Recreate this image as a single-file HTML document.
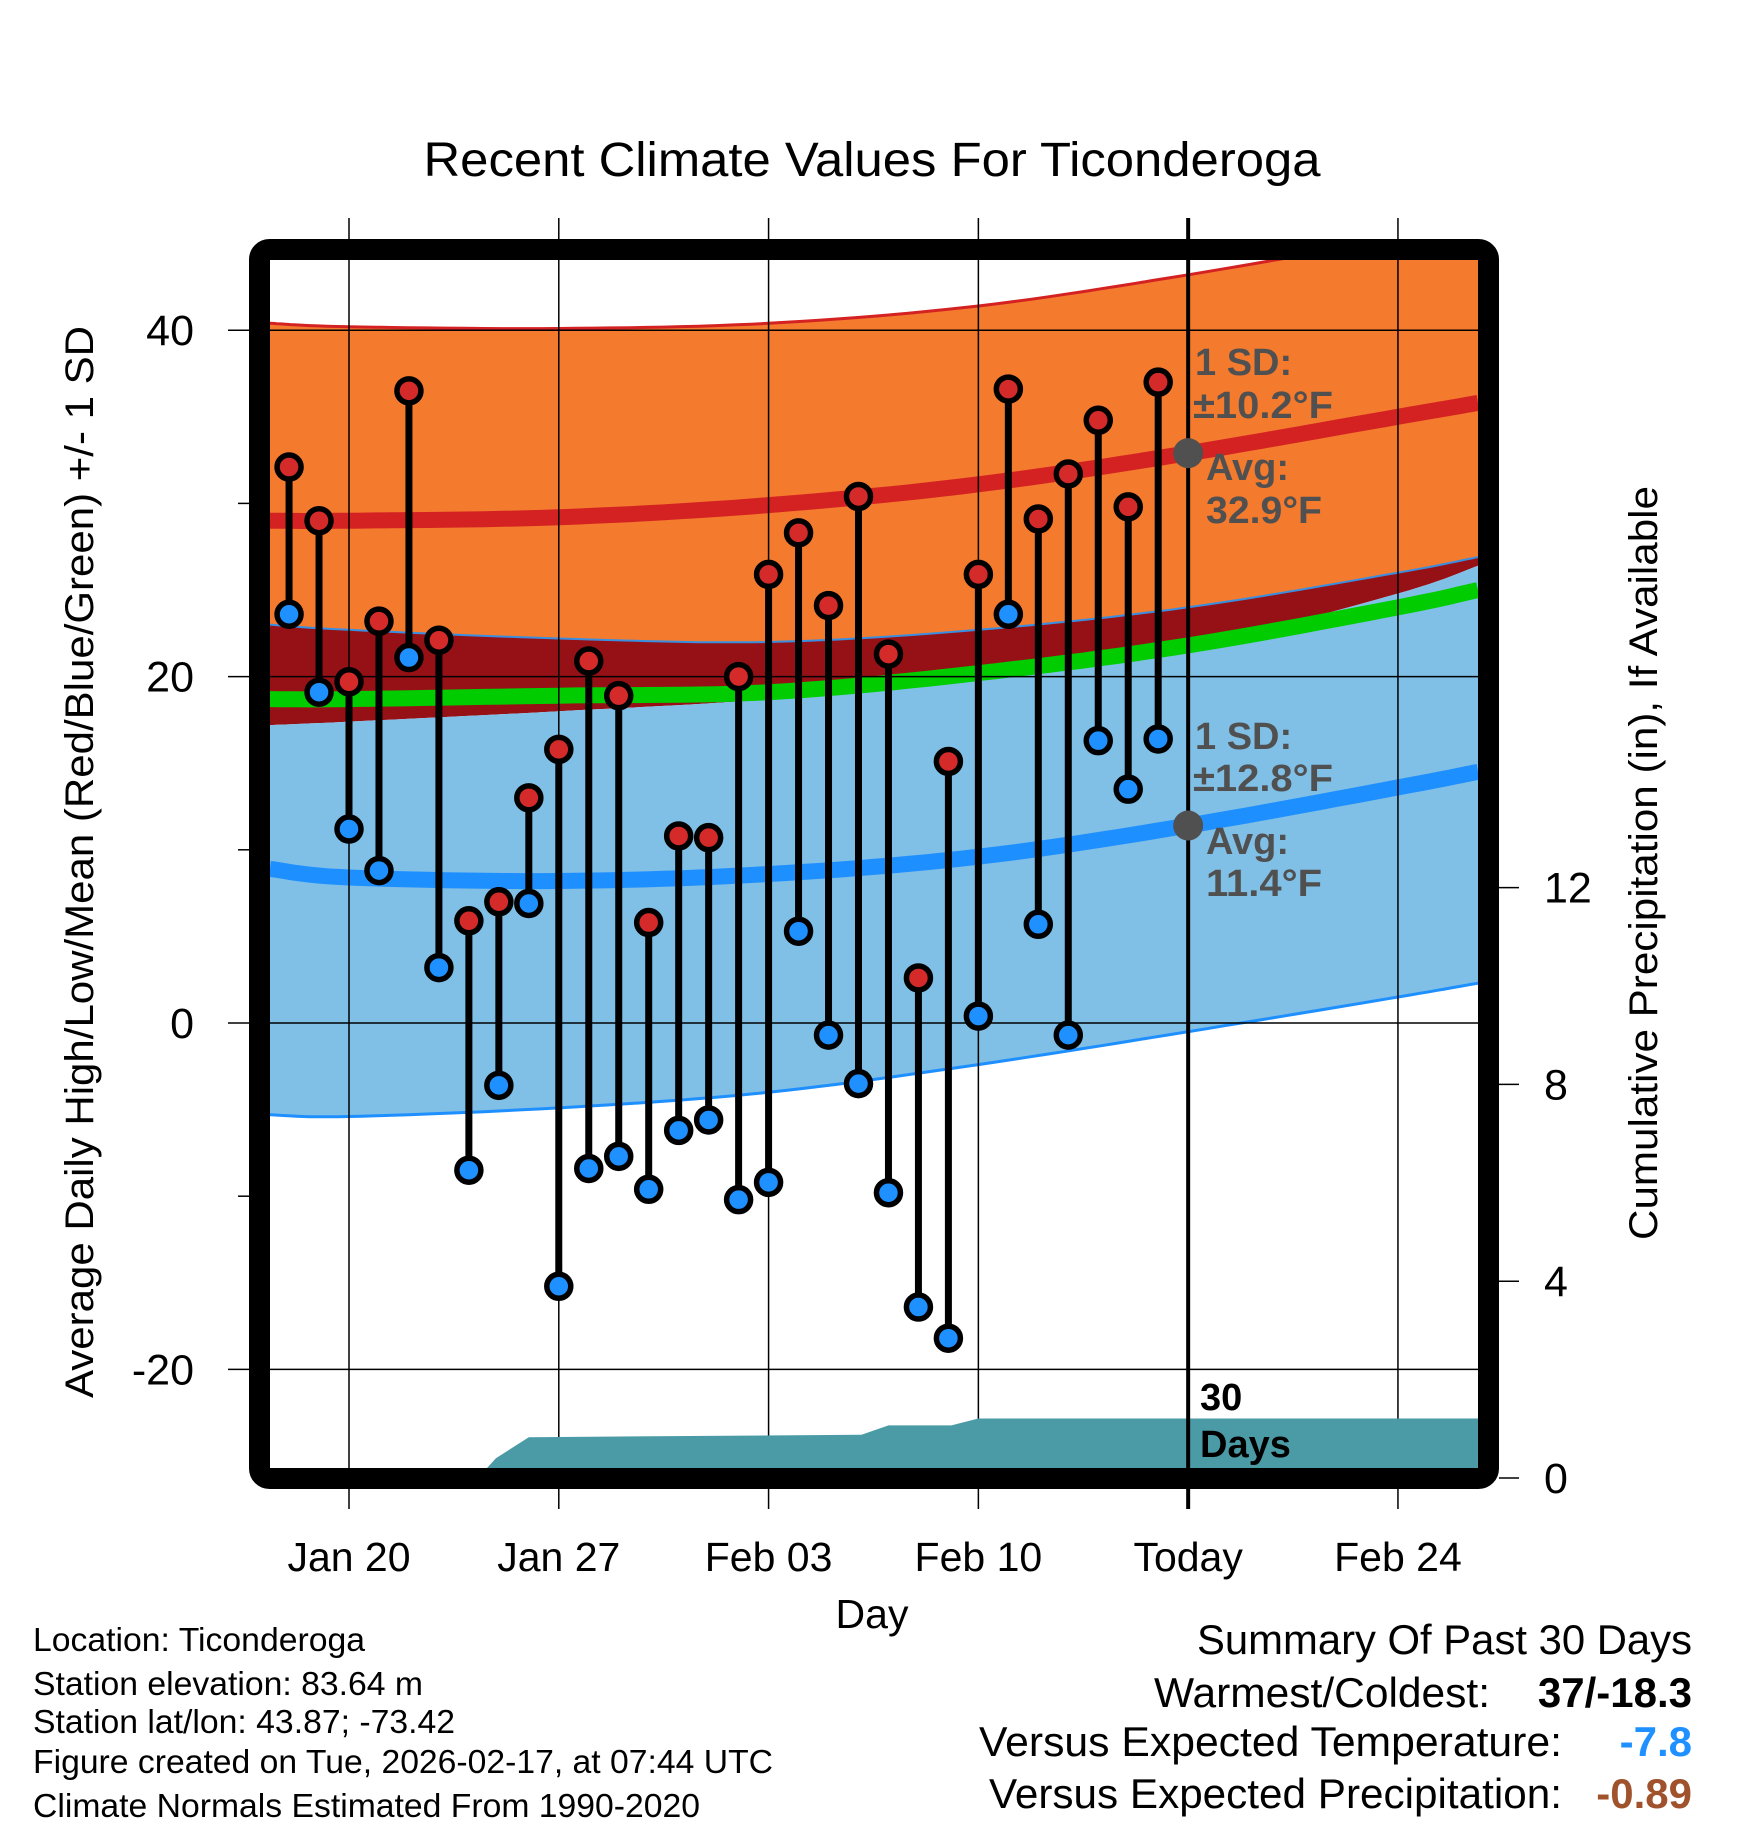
<!DOCTYPE html>
<html><head><meta charset="utf-8"><style>
html,body{margin:0;padding:0;background:#fff;}
svg{display:block;font-family:"Liberation Sans",sans-serif;}
</style></head><body>
<svg id="chart" width="1748" height="1828" viewBox="0 0 1748 1828" xmlns="http://www.w3.org/2000/svg">
<defs><clipPath id="plotclip"><rect x="270" y="260" width="1208" height="1208"/></clipPath></defs>
<text x="872" y="176" font-size="48" text-anchor="middle" textLength="897" lengthAdjust="spacingAndGlyphs">Recent Climate Values For Ticonderoga</text>
<g id="plot" clip-path="url(#plotclip)"></g>
<g id="over"></g>
</svg>
<script>
// ---- data ----
const normDays = [-2.64, 0, 7, 14, 21, 28, 35, 37.67];
const highTop = [40.4, 40.2, 40.1, 40.4, 41.4, 43.2, 45.3, 46.0];
const highMean = [29.0, 29.0, 29.2, 29.9, 31.1, 32.9, 35.0, 35.8];
const highBottom = [23.0, 22.7, 22.2, 22.0, 22.7, 24.0, 26.0, 26.9];
const lowTop = [17.2, 17.4, 18.0, 18.7, 20.0, 21.7, 24.8, 26.4];
const greenMean = [18.7, 18.7, 18.9, 19.1, 20.2, 21.8, 24.0, 25.0];
const lowMean = [8.9, 8.4, 8.2, 8.6, 9.6, 11.4, 13.6, 14.5];
const lowBottom = [-5.3, -5.4, -4.9, -4.0, -2.4, -0.5, 1.5, 2.3];
const obsDays = [-2,-1,0,1,2,3,4,5,6,7,8,9,10,11,12,13,14,15,16,17,18,19,20,21,22,23,24,25,26,27];
const highs = [32.1,29.0,19.7,23.2,36.5,22.1,5.9,7.0,13.0,15.8,20.9,18.9,5.8,10.8,10.7,20.0,25.9,28.3,24.1,30.4,21.3,2.6,15.1,25.9,36.6,29.1,31.7,34.8,29.8,37.0];
const lows = [23.6,19.1,11.2,8.8,21.1,3.2,-8.5,-3.6,6.9,-15.2,-8.4,-7.7,-9.6,-6.2,-5.6,-10.2,-9.2,5.3,-0.7,-3.5,-9.8,-16.4,-18.2,0.4,23.6,5.7,-0.7,16.3,13.5,16.4];
const precipDays = [-2.64,4.3,4.9,6,17.1,18,20.1,21,37.67];
const precip = [0,0,0.4,0.83,0.88,1.07,1.07,1.21,1.21];
const xTickDays = [0,7,14,21,28,35];
const xTickLabels = ["Jan 20","Jan 27","Feb 03","Feb 10","Today","Feb 24"];
const yTicks = [-20,0,20,40];
const yMinor = [-10,10,30];
const pTicks = [0,4,8,12];
// ---- scales ----
const xS = d => 349 + d*29.97;
const yS = t => 1023 - t*17.32;
const pS = p => 1478 - p*49.2;
const NS = "http://www.w3.org/2000/svg";
const plot = document.getElementById('plot');
const over = document.getElementById('over');
function mk(tag, attrs, parent){const e=document.createElementNS(NS,tag);for(const k in attrs)e.setAttribute(k,attrs[k]);parent.appendChild(e);return e;}
function pts(xs, ys, f){return xs.map((d,i)=>xS(d).toFixed(1)+','+f(ys[i]).toFixed(1));}
// smooth curve sampling (Catmull-Rom through the data points)
function smooth(xs, ys){
  const out=[];
  const n=xs.length;
  for(let i=0;i<n-1;i++){
    const x0=xS(xs[Math.max(i-1,0)]), y0=yS(ys[Math.max(i-1,0)]);
    const x1=xS(xs[i]), y1=yS(ys[i]), x2=xS(xs[i+1]), y2=yS(ys[i+1]);
    const x3=xS(xs[Math.min(i+2,n-1)]), y3=yS(ys[Math.min(i+2,n-1)]);
    for(let k=0;k<12;k++){
      const t=k/12,t2=t*t,t3=t2*t;
      const f=(a,b,c,d)=>0.5*((2*b)+(-a+c)*t+(2*a-5*b+4*c-d)*t2+(-a+3*b-3*c+d)*t3);
      out.push(f(x0,x1,x2,x3).toFixed(1)+','+f(y0,y1,y2,y3).toFixed(1));
    }
  }
  out.push(xS(xs[n-1]).toFixed(1)+','+yS(ys[n-1]).toFixed(1));
  return out;
}
function band(top, bot, fill, name){
  const p = smooth(normDays, top).concat(smooth(normDays, bot).reverse());
  const e = mk('polygon',{points:p.join(' '),fill:fill},plot);
  
  
}
function line(arr, color, w, name){
  const e = mk('polyline',{points:smooth(normDays, arr).join(' '),fill:'none',stroke:color,'stroke-width':w},plot);
  
  
}
band(highTop, highBottom, '#f47a2e', 'high-sd-band');
band(highBottom, lowTop, '#961116', 'overlap-band');
band(lowTop, lowBottom, '#80bfe6', 'low-sd-band');
line(highTop, '#d42222', 3, 'high-sd-top-edge');
line(lowBottom, '#1e8fff', 3, 'low-sd-bottom-edge');
line(highBottom, '#3a8ee0', 2, 'high-sd-bottom-edge');
line(highMean, '#d42222', 16, 'normal-high-line');
line(greenMean, '#00cc00', 16, 'normal-mean-line');
line(lowMean, '#1e8fff', 16, 'normal-low-line');
// gridlines
xTickDays.forEach((d,i)=>{
  if(i===4) return;
  const g = mk('line',{x1:xS(d),x2:xS(d),y1:218,y2:1509,stroke:'#000','stroke-width':1.5},over);
  
  
});
yTicks.forEach(t=>{
  const g = mk('line',{x1:228,x2:1478,y1:yS(t),y2:yS(t),stroke:'#000','stroke-width':1.5},over);
  
  
});
yMinor.forEach(t=>{
  const g = mk('line',{x1:238,x2:250,y1:yS(t),y2:yS(t),stroke:'#000','stroke-width':1.5},over);
  
  
});
// precip area
{
  const p = pts(precipDays, precip, pS);
  p.push(xS(37.67)+','+pS(0)); p.push(xS(-2.64)+','+pS(0));
  const g = document.createElementNS(NS,'g'); g.setAttribute('clip-path','url(#plotclip)'); over.appendChild(g);
  const e = mk('polygon',{points:p.join(' '),fill:'#4a9ba6'},g);
  
  
}
// today line
{
  const e = mk('line',{x1:xS(28),x2:xS(28),y1:218,y2:1509,stroke:'#000','stroke-width':4},over);
  
  
}
// stems and markers
obsDays.forEach((d,i)=>{
  const x = xS(d);
  const s = mk('line',{x1:x,x2:x,y1:yS(highs[i]),y2:yS(lows[i]),stroke:'#000','stroke-width':7},over);
  
  
});
obsDays.forEach((d,i)=>{
  const x = xS(d);
  const h = mk('circle',{cx:x,cy:yS(highs[i]),r:12,fill:'#d42a2a',stroke:'#000','stroke-width':5.5},over);
  
  
  const l = mk('circle',{cx:x,cy:yS(lows[i]),r:12,fill:'#1e90ff',stroke:'#000','stroke-width':5.5},over);
  
  
});
// avg dots
[32.9, 11.4].forEach(v=>{
  const c = mk('circle',{cx:xS(28),cy:yS(v),r:15,fill:'#505050'},over);
  
  
});
// frame
{
  const f = mk('rect',{x:259.5,y:249.5,width:1229,height:1229,rx:10,fill:'none',stroke:'#000','stroke-width':21},over);
  
  
}
pTicks.forEach(p=>{
  const g = mk('line',{x1:1499,x2:1519,y1:pS(p),y2:pS(p),stroke:'#000','stroke-width':1.5},over);
  
  
});
// labels
function txt(s, attrs, name){const e=mk('text',attrs,over);e.textContent=s;return e;}
xTickDays.forEach((d,i)=>{ txt(xTickLabels[i],{x:xS(d),y:1571,'font-size':41,'text-anchor':'middle'},'x-tick-label'); });
yTicks.forEach(t=>{ txt(String(t),{x:194,y:yS(t)+15,'font-size':43,'text-anchor':'end'},'y-tick-label'); });
pTicks.forEach(p=>{ txt(String(p),{x:1544,y:pS(p)+15,'font-size':43},'precip-tick-label'); });
</script>
<svg style="position:absolute;left:0;top:0" width="1748" height="1828" xmlns="http://www.w3.org/2000/svg">
<g font-family="Liberation Sans, sans-serif">
<text x="872" y="1628" font-size="41" text-anchor="middle">Day</text>
<text transform="translate(93,862) rotate(-90)" font-size="40" text-anchor="middle" textLength="1072" lengthAdjust="spacingAndGlyphs">Average Daily High/Low/Mean (Red/Blue/Green) +/- 1 SD</text>
<text transform="translate(1657,863) rotate(-90)" font-size="40" text-anchor="middle" textLength="754" lengthAdjust="spacingAndGlyphs">Cumulative Precipitation (in), If Available</text>
<g fill="#505050" font-weight="bold" font-size="38">
<text x="1195" y="375">1 SD:</text>
<text x="1193" y="418" textLength="140" lengthAdjust="spacingAndGlyphs">±10.2°F</text>
<text x="1206" y="480">Avg:</text>
<text x="1206" y="523" textLength="116" lengthAdjust="spacingAndGlyphs">32.9°F</text>
<text x="1195" y="749">1 SD:</text>
<text x="1193" y="791" textLength="140" lengthAdjust="spacingAndGlyphs">±12.8°F</text>
<text x="1206" y="854">Avg:</text>
<text x="1206" y="896" textLength="116" lengthAdjust="spacingAndGlyphs">11.4°F</text>
</g>
<text x="1200" y="1410" font-size="38" font-weight="bold">30</text>
<text x="1200" y="1457" font-size="38" font-weight="bold">Days</text>
<g font-size="33">
<text x="33" y="1651" textLength="332" lengthAdjust="spacingAndGlyphs">Location: Ticonderoga</text>
<text x="33" y="1695" textLength="390" lengthAdjust="spacingAndGlyphs">Station elevation: 83.64 m</text>
<text x="33" y="1733" textLength="422" lengthAdjust="spacingAndGlyphs">Station lat/lon: 43.87; -73.42</text>
<text x="33" y="1773" textLength="740" lengthAdjust="spacingAndGlyphs">Figure created on Tue, 2026-02-17, at 07:44 UTC</text>
<text x="33" y="1817" textLength="667" lengthAdjust="spacingAndGlyphs">Climate Normals Estimated From 1990-2020</text>
</g>
<g font-size="42">
<text x="1692" y="1654" text-anchor="end" textLength="495" lengthAdjust="spacingAndGlyphs">Summary Of Past 30 Days</text>
<text x="1490" y="1707" text-anchor="end" textLength="336" lengthAdjust="spacingAndGlyphs">Warmest/Coldest:</text>
<text x="1692" y="1707" text-anchor="end" font-weight="bold">37/-18.3</text>
<text x="1562" y="1756" text-anchor="end" textLength="583" lengthAdjust="spacingAndGlyphs">Versus Expected Temperature:</text>
<text x="1692" y="1756" text-anchor="end" font-weight="bold" fill="#1e90ff">-7.8</text>
<text x="1562" y="1808" text-anchor="end" textLength="573" lengthAdjust="spacingAndGlyphs">Versus Expected Precipitation:</text>
<text x="1692" y="1808" text-anchor="end" font-weight="bold" fill="#a0522d">-0.89</text>
</g>
</g>
</svg>
</body></html>
